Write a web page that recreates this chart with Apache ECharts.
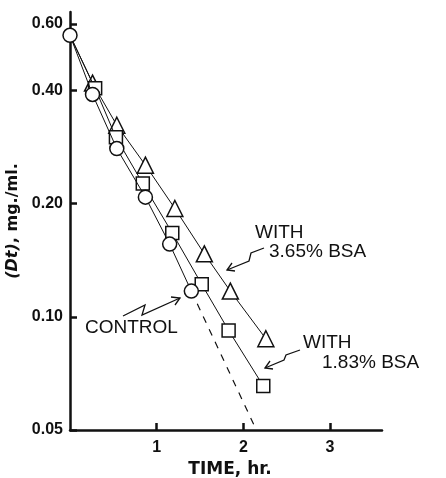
<!DOCTYPE html>
<html><head><meta charset="utf-8">
<script src="https://cdn.jsdelivr.net/npm/echarts@6/dist/echarts.min.js"></script>
<style>html,body{margin:0;padding:0;background:#fff}#c{width:446px;height:478px}</style>
</head><body><div id="c"></div>
<script>
// Data (time in hr, concentration Dt in mg/ml)
const controlTime = [0, 0.26, 0.54, 0.87, 1.15, 1.40];
const controlDt   = [0.56, 0.39, 0.28, 0.208, 0.156, 0.117];
const extrapTime  = [1.40, 2.15];
const extrapDt    = [0.117, 0.05];
const bsa183Time  = [0, 0.29, 0.53, 0.84, 1.18, 1.52, 1.83, 2.23];
const bsa183Dt    = [0.56, 0.405, 0.30, 0.226, 0.167, 0.122, 0.092, 0.0655];
const bsa365Time  = [0, 0.26, 0.54, 0.87, 1.21, 1.55, 1.85, 2.26];
const bsa365Dt    = [0.56, 0.418, 0.323, 0.253, 0.194, 0.147, 0.117, 0.0874];
const yTicks = [0.05, 0.10, 0.20, 0.40, 0.60];
const xTicks = [1, 2, 3];

function pairs(t, v, hideFirst) {
  return t.map((x, i) => (hideFirst && i === 0) ? {value: [x, v[i]], symbolSize: 0} : [x, v[i]]);
}

const chart = echarts.init(document.getElementById('c'));
const black = '#111';
const markerStyle = {color: '#fff', borderColor: black, borderWidth: 1.5};
chart.setOption({
  animation: false,
  backgroundColor: '#fff',
  grid: {left: 70, right: 64, top: 12, bottom: 48, containLabel: false, outerBoundsMode: 'none'},
  xAxis: {
    type: 'value', min: 0, max: 3.6, interval: 1,
    name: 'TIME, hr.', nameLocation: 'middle', nameGap: 30,
    nameTextStyle: {fontFamily: 'DejaVu Sans', fontWeight: 'bold', fontSize: 17, color: black, padding: [0, 0, 0, 8]},
    axisLine: {lineStyle: {color: black, width: 2.5}},
    axisTick: {inside: true, length: 7, lineStyle: {color: black, width: 2.5}, customValues: xTicks},
    axisLabel: {customValues: xTicks, fontFamily: 'Liberation Sans', fontWeight: 'bold', fontSize: 16, color: black, margin: 10},
    splitLine: {show: false}
  },
  yAxis: {
    type: 'log', logBase: 10, min: 0.05, max: 0.646,
    name: '{i|(Dt)}, mg./ml.', nameLocation: 'middle', nameGap: 43, nameRotate: 90,
    nameTextStyle: {fontFamily: 'DejaVu Sans', fontWeight: 'bold', fontSize: 16, color: black,
      rich: {i: {fontFamily: 'DejaVu Sans', fontStyle: 'italic', fontWeight: 'bold', fontSize: 16, color: black}}},
    axisLine: {lineStyle: {color: black, width: 2.5}},
    axisTick: {inside: true, length: 7, lineStyle: {color: black, width: 2.5}, customValues: yTicks},
    axisLabel: {customValues: yTicks, formatter: v => Number(v).toFixed(2),
      fontFamily: 'Liberation Sans', fontWeight: 'bold', fontSize: 16, color: black, margin: 7},
    splitLine: {show: false}
  },
  series: [
    {type: 'line', data: pairs(extrapTime, extrapDt), symbol: 'none',
     lineStyle: {color: black, width: 1.2, type: [7, 7]}, z: 1},
    {type: 'line', data: pairs(bsa365Time, bsa365Dt, true), symbol: 'triangle', symbolSize: 16,
     lineStyle: {color: black, width: 1}, itemStyle: markerStyle, z: 2},
    {type: 'line', data: pairs(bsa183Time, bsa183Dt, true), symbol: 'rect', symbolSize: 13,
     lineStyle: {color: black, width: 1}, itemStyle: markerStyle, z: 3},
    {type: 'line', data: pairs(controlTime, controlDt), symbol: 'circle', symbolSize: 14,
     lineStyle: {color: black, width: 1}, itemStyle: markerStyle, z: 4}
  ],
  graphic: [
    {type: 'text', left: 85, top: 318, style: {text: 'CONTROL', font: '19px "Liberation Sans"', fill: black}},
    {type: 'polyline', shape: {points: [[123,316],[145,305],[142,315],[180,298]]}, style: {stroke: black, lineWidth: 1.3, fill: null}},
    {type: 'polyline', shape: {points: [[171,297],[180,298],[175,305]]}, style: {stroke: black, lineWidth: 1.3, fill: null}},

    {type: 'text', left: 255, top: 223, style: {text: 'WITH', font: '19px "Liberation Sans"', fill: black}},
    {type: 'text', left: 269, top: 242, style: {text: '3.65% BSA', font: '19px "Liberation Sans"', fill: black}},
    {type: 'polyline', shape: {points: [[264,248],[251,253],[249,261],[227,270]]}, style: {stroke: black, lineWidth: 1.3, fill: null}},
    {type: 'polyline', shape: {points: [[232,263],[227,270],[235,271]]}, style: {stroke: black, lineWidth: 1.3, fill: null}},

    {type: 'text', left: 303, top: 333, style: {text: 'WITH', font: '19px "Liberation Sans"', fill: black}},
    {type: 'text', left: 322, top: 353, style: {text: '1.83% BSA', font: '19px "Liberation Sans"', fill: black}},
    {type: 'polyline', shape: {points: [[300,350],[286,355],[284,360],[265,368]]}, style: {stroke: black, lineWidth: 1.3, fill: null}},
    {type: 'polyline', shape: {points: [[270,361],[265,368],[273,369]]}, style: {stroke: black, lineWidth: 1.3, fill: null}}
  ]
});
</script></body></html>
